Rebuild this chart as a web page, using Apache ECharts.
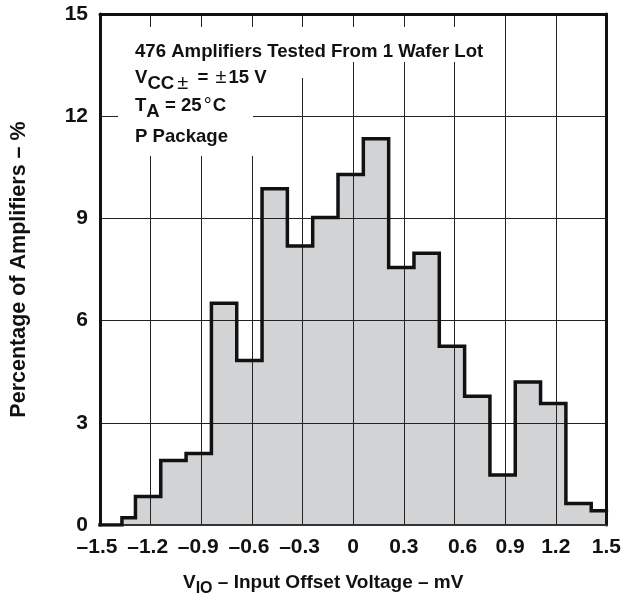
<!DOCTYPE html>
<html>
<head>
<meta charset="utf-8">
<script src="https://cdn.jsdelivr.net/npm/echarts@6/dist/echarts.min.js"></script>
<style>
html,body{margin:0;padding:0;background:#fff;}
#chart{width:624px;height:604px;}
</style>
</head>
<body>
<div id="chart"></div>
<script>
// ---- data ----
const xMin = -1.5, xMax = 1.5, xStep = 0.3;
const yMin = 0, yMax = 15, yStep = 3;
const xTickLabels = ['\u20131.5', '\u20131.2', '\u20130.9', '\u20130.6', '\u20130.3', '0', '0.3', '0.6', '0.9', '1.2', '1.5'];
const yTickLabels = ['0', '3', '6', '9', '12', '15'];
// histogram bin edges (mV) and percentage of amplifiers in each bin
const binEdges = [-1.37, -1.29, -1.14, -0.99, -0.84, -0.69, -0.54, -0.39, -0.24, -0.09, 0.06, 0.21, 0.36, 0.51, 0.66, 0.81, 0.96, 1.11, 1.26, 1.41, 1.5];
const percentages = [0.21, 0.84, 1.89, 2.10, 6.51, 4.83, 9.87, 8.19, 9.03, 10.29, 11.34, 7.56, 7.98, 5.25, 3.78, 1.47, 4.20, 3.57, 0.63, 0.42];
const annotationLines = [
  '476 Amplifiers Tested From 1 Wafer Lot',
  'V{sub|CC}{pms|\u00B1}{m| = }{pm|\u00B1}{m|15 V}',
  'T{sub|A}{m| = 25}{deg|\u00B0}{m|C}',
  'P Package'
];
const xTitle = 'V{sub|IO} \u2013 Input Offset Voltage \u2013 mV';
const yTitle = 'Percentage of Amplifiers \u2013 %';

// ---- build step points ----
const stepPoints = [[xMin, 0], [binEdges[0], 0]];
for (let i = 0; i < percentages.length; i++) {
  stepPoints.push([binEdges[i], percentages[i]]);
  stepPoints.push([binEdges[i + 1], percentages[i]]);
}

const FONT = 'Liberation Sans, Arial, Helvetica, sans-serif';
const chart = echarts.init(document.getElementById('chart'), null, {renderer: 'canvas'});

// small horizontal nudges of individual x tick labels (style only)
const xLabelShift = {0: -3, 1: -3, 2: -3, 3: -3, 4: -3, 7: 8, 8: 5};
function xLabel(v) {
  const i = Math.round((v - xMin) / xStep);
  const s = xLabelShift[i];
  if (s) return '{' + (s < 0 ? 'l' + (-s) : 'r' + s) + '|' + xTickLabels[i] + '}';
  return xTickLabels[i];
}
function yLabel(v) { return yTickLabels[Math.round((v - yMin) / yStep)]; }

const tickBase = {fontSize: 21, fontWeight: 'bold', fontFamily: FONT, color: '#111'};
const tickRich = {
  r8: Object.assign({}, tickBase, {padding: [0, 0, 0, 16]}),
  r5: Object.assign({}, tickBase, {padding: [0, 0, 0, 10]}),
  l3: Object.assign({}, tickBase, {padding: [0, 6, 0, 0]})
};

const ANN = 18.6;
const annRich = {
  m: {fontSize: ANN, fontWeight: 'bold', fontFamily: FONT, color: '#111', lineHeight: 26},
  sub: {fontSize: ANN, fontWeight: 'bold', fontFamily: FONT, color: '#111', lineHeight: 18, padding: [12, 0, 0, 0]},
  pms: {fontSize: 20, fontWeight: 'normal', fontFamily: FONT, color: '#111', lineHeight: 18, padding: [12, 4, 0, 3]},
  pm: {fontSize: 20, fontWeight: 'normal', fontFamily: FONT, color: '#111', lineHeight: 26, padding: [0, 2, 0, 2]},
  deg: {fontSize: 20, fontWeight: 'normal', fontFamily: FONT, color: '#111', lineHeight: 26, padding: [0, 1, 0, 2]}
};

const annY = [51.5, 77.5, 106, 136.5];

chart.setOption({
  animation: false,
  backgroundColor: '#fff',
  grid: {left: 98, right: 16, top: 14, bottom: 79, containLabel: false},
  xAxis: [{
    type: 'value', min: xMin, max: xMax, interval: xStep, position: 'bottom', z: 3,
    axisLine: {show: true, onZero: false, lineStyle: {color: '#333', width: 2}},
    axisTick: {show: false},
    splitLine: {show: true, lineStyle: {color: '#222', width: 1}},
    axisLabel: {formatter: xLabel, fontSize: 21, fontWeight: 'bold', fontFamily: FONT, color: '#111', margin: 12, rich: tickRich},
    name: xTitle, nameLocation: 'middle', nameGap: 48,
    nameTextStyle: {fontSize: 19, fontWeight: 'bold', fontFamily: FONT, color: '#111', padding: [0, 60, 0, 0],
      rich: {sub: {fontSize: 16, fontWeight: 'bold', fontFamily: FONT, color: '#111', padding: [12, 0, 0, 0], lineHeight: 16}}}
  }, {
    type: 'value', min: xMin, max: xMax, interval: xStep, position: 'top', z: 3,
    axisLine: {show: true, onZero: false, lineStyle: {color: '#111', width: 3}},
    axisTick: {show: false}, axisLabel: {show: false}, splitLine: {show: false}
  }],
  yAxis: [{
    type: 'value', min: yMin, max: yMax, interval: yStep, position: 'left', z: 3,
    axisLine: {show: true, onZero: false, lineStyle: {color: '#111', width: 3}},
    axisTick: {show: false},
    splitLine: {show: true, lineStyle: {color: '#222', width: 1}},
    axisLabel: {formatter: yLabel, fontSize: 21, fontWeight: 'bold', fontFamily: FONT, color: '#111', margin: 12},
    name: yTitle, nameLocation: 'middle', nameGap: 70,
    nameTextStyle: {fontSize: 21.5, fontWeight: 'bold', fontFamily: FONT, color: '#111'}
  }, {
    type: 'value', min: yMin, max: yMax, interval: yStep, position: 'right', z: 3,
    axisLine: {show: true, onZero: false, lineStyle: {color: '#111', width: 3}},
    axisTick: {show: false}, axisLabel: {show: false}, splitLine: {show: false}
  }],
  series: [{
    type: 'line', data: stepPoints, xAxisIndex: 0, yAxisIndex: 0, z: 1,
    symbol: 'none', silent: true,
    lineStyle: {width: 0, opacity: 0},
    areaStyle: {color: '#d2d3d5', opacity: 1}
  }, {
    type: 'line', data: stepPoints, xAxisIndex: 0, yAxisIndex: 0, z: 5,
    symbol: 'none', silent: true,
    lineStyle: {color: '#111', width: 3.5, join: 'miter', cap: 'square'}
  }],
  graphic: [
    {type: 'rect', z: 10, silent: true, shape: {x: 118, y: 27, width: 380, height: 35}, style: {fill: '#fff'}},
    {type: 'rect', z: 10, silent: true, shape: {x: 118, y: 27, width: 190, height: 51}, style: {fill: '#fff'}},
    {type: 'rect', z: 10, silent: true, shape: {x: 118, y: 27, width: 135, height: 129}, style: {fill: '#fff'}},
    ...annotationLines.map((t, i) => ({
      type: 'text', z: 11, silent: true, x: 135, y: annY[i],
      style: {text: t, fill: '#111', fontSize: ANN, fontWeight: 'bold', fontFamily: FONT,
        verticalAlign: 'middle', align: 'left', lineHeight: 26, rich: annRich}
    }))
  ]
});
</script>
</body>
</html>
